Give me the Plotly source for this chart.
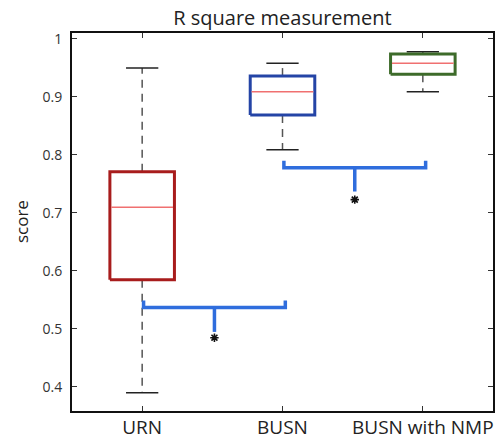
import plotly.graph_objects as go

# ---- data ----
categories = ["URN", "BUSN", "BUSN with NMP"]
positions = [1, 2, 3]
q1 = [0.585, 0.869, 0.939]
medians = [0.710, 0.909, 0.958]
q3 = [0.771, 0.936, 0.974]
whisker_low = [0.390, 0.809, 0.909]
whisker_high = [0.950, 0.958, 0.978]
box_colors = ["#a81c1c", "#2444a6", "#3d6b2a"]

y_ticks = [0.4, 0.5, 0.6, 0.7, 0.8, 0.9, 1.0]
y_tick_labels = ["0.4", "0.5", "0.6", "0.7", "0.8", "0.9", "1"]

# significance brackets: (left group, right group)
bracket_pairs = [(0, 1), (1, 2)]
bracket_level = [0.537, 0.778]
bracket_stem_bottom = [0.495, 0.737]
bracket_star_y = [0.485, 0.723]

# ---- style ----
BOX_W = 0.46
CAP_W = 0.23
TICK_H = 0.012
BRACKET_COLOR = "#2f6ddd"
MEDIAN_COLOR = "#f07070"
FONT = "Open Sans"

fig = go.Figure()

for i, x in enumerate(positions):
    # whiskers (dashed)
    for a, b in ((q3[i], whisker_high[i]), (q1[i], whisker_low[i])):
        fig.add_trace(go.Scatter(x=[x, x], y=[a, b], mode="lines",
                                 line=dict(color="#555555", width=1.5, dash="8px,6px"),
                                 hoverinfo="skip", showlegend=False))
    # caps
    for v in (whisker_high[i], whisker_low[i]):
        fig.add_trace(go.Scatter(x=[x - CAP_W / 2, x + CAP_W / 2], y=[v, v], mode="lines",
                                 line=dict(color="#222222", width=1.5),
                                 hoverinfo="skip", showlegend=False))

for i, x in enumerate(positions):
    l, r = x - BOX_W / 2, x + BOX_W / 2
    fig.add_trace(go.Scatter(x=[l, r, r, l, l], y=[q1[i], q1[i], q3[i], q3[i], q1[i]],
                             mode="lines", line=dict(color=box_colors[i], width=3),
                             name=categories[i], showlegend=False))
    fig.add_trace(go.Scatter(x=[l + 0.01, r - 0.01], y=[medians[i], medians[i]], mode="lines",
                             line=dict(color=MEDIAN_COLOR, width=1.5),
                             hoverinfo="skip", showlegend=False))

for k, (a, b) in enumerate(bracket_pairs):
    xl = positions[a] + 0.01
    xr = positions[b] + 0.02
    yv = bracket_level[k]
    fig.add_trace(go.Scatter(x=[xl, xl, xr, xr], y=[yv + TICK_H, yv, yv, yv + TICK_H],
                             mode="lines", line=dict(color=BRACKET_COLOR, width=3.5),
                             hoverinfo="skip", showlegend=False))
    xm = (xl + xr) / 2
    fig.add_trace(go.Scatter(x=[xm, xm], y=[yv, bracket_stem_bottom[k]], mode="lines",
                             line=dict(color=BRACKET_COLOR, width=3.5),
                             hoverinfo="skip", showlegend=False))
    fig.add_trace(go.Scatter(x=[xm], y=[bracket_star_y[k]], mode="markers",
                             marker=dict(symbol="asterisk-open", size=7, color="#111111",
                                         line=dict(color="#111111", width=1.6)),
                             hoverinfo="skip", showlegend=False))

axis_common = dict(showline=True, linecolor="#111111", linewidth=2, mirror="ticks",
                   ticks="inside", ticklen=5, tickcolor="#333333", tickwidth=1,
                   showgrid=False, zeroline=False, automargin=False)

fig.update_layout(
    width=498, height=439,
    margin=dict(l=72, r=5, t=33, b=28),
    paper_bgcolor="white", plot_bgcolor="white",
    font=dict(family=FONT, color="#222222"),
    title=dict(text="R square measurement", x=0.5, xref="paper",
               y=1 - 18 / 439, yref="container", yanchor="middle",
               xanchor="center", font=dict(size=20, color="#222222")),
    xaxis=dict(range=[0.5, 3.5], tickvals=positions, ticktext=categories,
               tickfont=dict(size=19, color="#222222"), ticklabelstandoff=-2,
               **axis_common),
    yaxis=dict(range=[0.3586, 1.0103], tickvals=y_ticks, ticktext=y_tick_labels,
               tickfont=dict(size=14, color="#333333"), ticklabelstandoff=5,
               **axis_common),
    annotations=[dict(text="score", xref="paper", yref="paper", x=-0.121, y=0.5,
                      textangle=-90, showarrow=False, xanchor="center", yanchor="middle",
                      font=dict(size=17, color="#222222"))],
)

fig.write_html("out.html", config={"displayModeBar": False},
               post_script="document.body.style.margin='0';")
